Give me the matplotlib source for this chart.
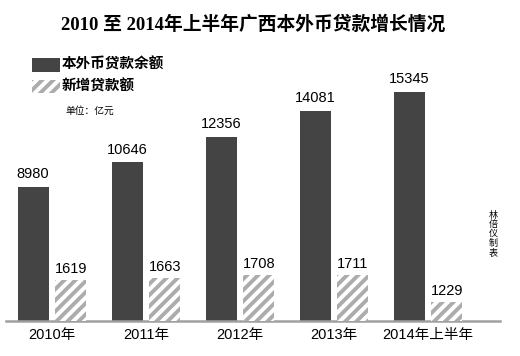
import numpy as np
import matplotlib.pyplot as plt
from matplotlib.patches import Rectangle

plt.rcParams['font.family'] = ['Liberation Sans', 'Noto Sans CJK SC']
plt.rcParams['hatch.linewidth'] = 2.8

years = ['2010年', '2011年', '2012年', '2013年', '2014年上半年']
balance = [8980, 10646, 12356, 14081, 15345]
new_loans = [1619, 1663, 1708, 1711, 1229]

dark = '#444444'
hatch_col = '#acacac'

fig = plt.figure(figsize=(5.2, 3.56), dpi=100)
ax = fig.add_axes([6 / 520, 35 / 356, 494 / 520, 261 / 356])
ax2 = ax.twinx()

x = np.arange(len(years))
w = 0.33
b1 = ax.bar(x - 0.2, balance, w, color=dark)
# the new-loan bars are drawn on their own (shifted) scale, like the original
b2 = ax2.bar(x + 0.2, new_loans, w, facecolor='white', edgecolor=hatch_col,
             hatch='///', linewidth=0)

ax.set_xlim(-0.489, 4.766)
ax.set_ylim(0, 17493)
ax2.set_ylim(889, 5575)

for a in (ax, ax2):
    for s in a.spines.values():
        s.set_visible(False)
    a.set_yticks([])
ax.spines['bottom'].set_visible(True)
ax.spines['bottom'].set_color('#a0a0a0')
ax.spines['bottom'].set_linewidth(1.8)
ax2.set_zorder(ax.zorder + 1)

ax.set_xticks(x)
ax.set_xticklabels(years, fontsize=10.5)
ax.tick_params(axis='x', length=0, pad=5)

for r, v in zip(b1, balance):
    ax.annotate(str(v), (r.get_x() + r.get_width() / 2, v), xytext=(0, 4),
                textcoords='offset points', ha='center', va='bottom', fontsize=10.5)
for r, v in zip(b2, new_loans):
    ax2.annotate(str(v), (r.get_x() + r.get_width() / 2, v), xytext=(0, 3),
                 textcoords='offset points', ha='center', va='bottom', fontsize=10.5)

fig.text(253 / 520, 1 - 25 / 356, '2010 至 2014年上半年广西本外币贷款增长情况',
         ha='center', va='center', fontsize=13.5, fontweight='bold',
         family=['Liberation Serif', 'Noto Sans CJK SC'])

# legend
fig.patches.append(Rectangle((32 / 520, 1 - 72 / 356), 28 / 520, 14 / 356,
                             transform=fig.transFigure, facecolor=dark))
fig.patches.append(Rectangle((32 / 520, 1 - 93 / 356), 28 / 520, 13 / 356,
                             transform=fig.transFigure, facecolor='white',
                             edgecolor=hatch_col, hatch='///', linewidth=0))
fig.text(62 / 520, 1 - 64 / 356, '本外币贷款余额', ha='left', va='center',
         fontsize=10.5, fontweight='bold')
fig.text(62 / 520, 1 - 86 / 356, '新增贷款额', ha='left', va='center',
         fontsize=10.5, fontweight='bold')
fig.text(65 / 520, 1 - 111 / 356, '单位：亿元', ha='left', va='center', fontsize=7)

fig.text(493 / 520, 1 - 234 / 356, '林\n倍\n仪\n制\n表', ha='center', va='center',
         fontsize=6.5, linespacing=1.05)

fig.savefig('out.png', dpi=100)
